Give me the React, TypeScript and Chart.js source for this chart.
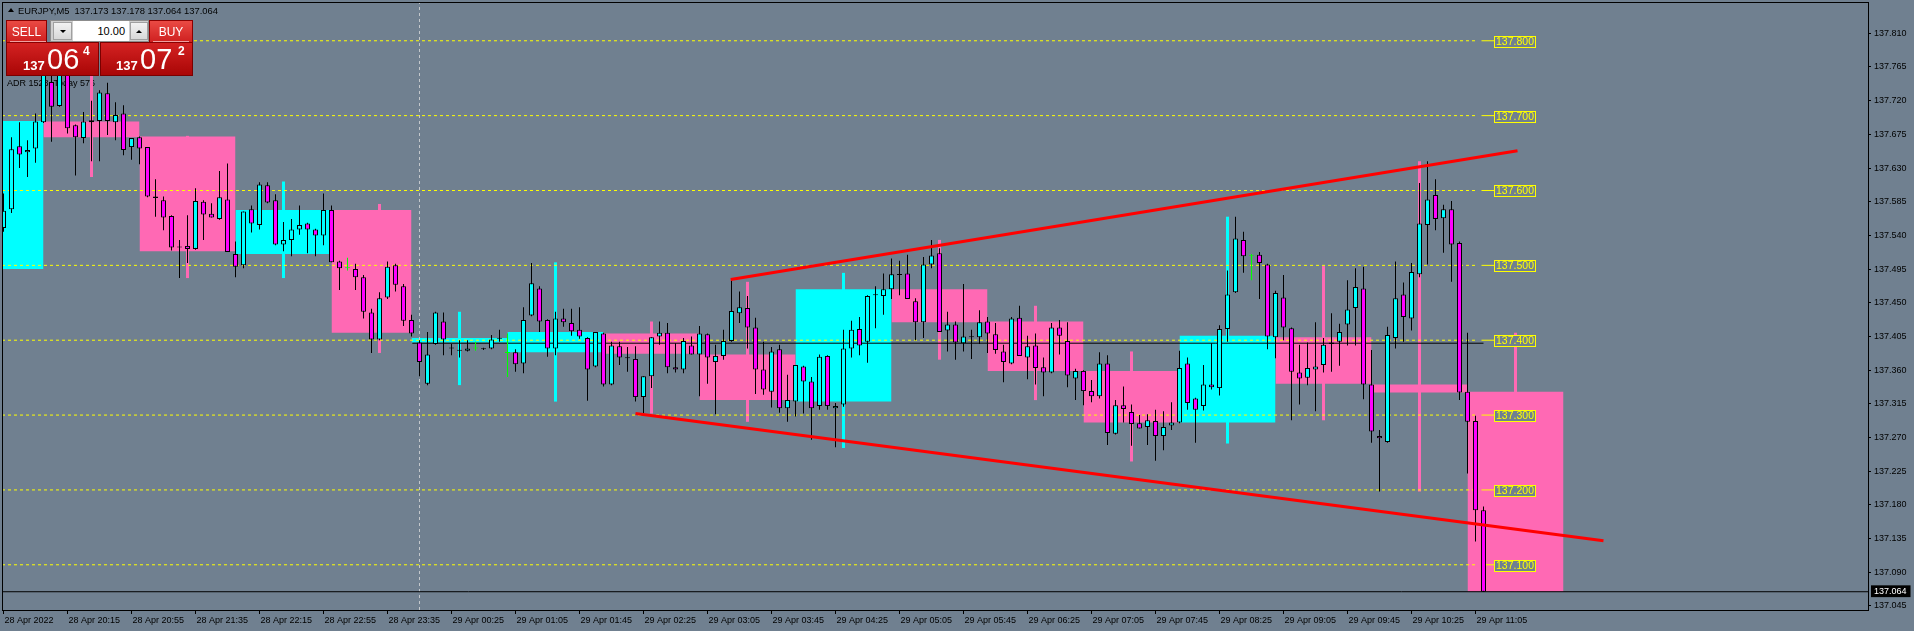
import React, { useEffect, useRef } from "react";
import { Chart, registerables } from "chart.js";

Chart.register(...registerables);

// ---------- data ----------
const TIME_LABELS = [
  "28 Apr 2022", "28 Apr 20:15", "28 Apr 20:55", "28 Apr 21:35", "28 Apr 22:15", "28 Apr 22:55",
  "28 Apr 23:35", "29 Apr 00:25", "29 Apr 01:05", "29 Apr 01:45", "29 Apr 02:25", "29 Apr 03:05",
  "29 Apr 03:45", "29 Apr 04:25", "29 Apr 05:05", "29 Apr 05:45", "29 Apr 06:25", "29 Apr 07:05",
  "29 Apr 07:45", "29 Apr 08:25", "29 Apr 09:05", "29 Apr 09:45", "29 Apr 10:25", "29 Apr 11:05",
];
const TIME_LABEL_STEP = 8;

const PRICE_TICKS = [
  137.045, 137.09, 137.135, 137.18, 137.225, 137.27, 137.315, 137.36, 137.405,
  137.45, 137.495, 137.54, 137.585, 137.63, 137.675, 137.72, 137.765, 137.81,
];
const LAST_PRICE = 137.064;

const OPEN = [
  137.550, 137.575, 137.659, 137.651, 137.656, 137.691, 137.745, 137.713, 137.756, 137.687,
  137.670, 137.691, 137.693, 137.730, 137.691, 137.703, 137.658, 137.671, 137.658, 137.592,
  137.587, 137.566, 137.525, 137.526, 137.522, 137.585, 137.569, 137.562, 137.588, 137.515,
  137.500, 137.575, 137.554, 137.607, 137.587, 137.528, 137.534, 137.548, 137.556, 137.548,
  137.540, 137.574, 137.505, 137.496, 137.495, 137.484, 137.437, 137.401, 137.457, 137.500,
  137.472, 137.427, 137.397, 137.342, 137.395, 137.425, 137.390, 137.387, 137.386, 137.389,
  137.389, 137.389, 137.403, 137.383, 137.384, 137.369, 137.433, 137.469, 137.427, 137.389,
  137.429, 137.423, 137.414, 137.403, 137.365, 137.409, 137.341, 137.392, 137.377, 137.375,
  137.324, 137.352, 137.405, 137.410, 137.364, 137.361, 137.393, 137.381, 137.408, 137.371,
  137.379, 137.399, 137.436, 137.443, 137.417, 137.361, 137.331, 137.388, 137.309, 137.318,
  137.365, 137.345, 137.312, 137.379, 137.309, 137.314, 137.389, 137.415, 137.398, 137.461,
  137.459, 137.468, 137.488, 137.489, 137.452, 137.424, 137.501, 137.516, 137.413, 137.421,
  137.396, 137.405, 137.404, 137.425, 137.408, 137.385, 137.369, 137.430, 137.377, 137.393,
  137.364, 137.357, 137.417, 137.399, 137.349, 137.359, 137.332, 137.325, 137.369, 137.275,
  137.313, 137.304, 137.289, 137.284, 137.292, 137.272, 137.286, 137.290, 137.369, 137.322,
  137.312, 137.341, 137.336, 137.415, 137.464, 137.534, 137.512, 137.514, 137.501, 137.404,
  137.457, 137.416, 137.357, 137.350, 137.361, 137.367, 137.395, 137.398, 137.421, 137.443,
  137.469, 137.341, 137.272, 137.264, 137.403, 137.461, 137.429, 137.488, 137.554, 137.594,
  137.563, 137.575, 137.530, 137.331, 137.292, 137.173,
];
const HIGH = [
  137.596, 137.671, 137.691, 137.667, 137.703, 137.764, 137.753, 137.766, 137.761, 137.688,
  137.705, 137.720, 137.734, 137.744, 137.718, 137.714, 137.670, 137.672, 137.658, 137.615,
  137.592, 137.567, 137.534, 137.567, 137.603, 137.587, 137.583, 137.626, 137.636, 137.532,
  137.572, 137.580, 137.611, 137.611, 137.595, 137.558, 137.562, 137.580, 137.557, 137.549,
  137.596, 137.580, 137.506, 137.510, 137.502, 137.487, 137.442, 137.464, 137.505, 137.502,
  137.475, 137.434, 137.400, 137.411, 137.438, 137.437, 137.395, 137.400, 137.400, 137.398,
  137.390, 137.407, 137.414, 137.409, 137.388, 137.444, 137.503, 137.472, 137.428, 137.438,
  137.442, 137.442, 137.444, 137.404, 137.411, 137.410, 137.398, 137.398, 137.391, 137.392,
  137.352, 137.404, 137.425, 137.423, 137.396, 137.403, 137.405, 137.419, 137.409, 137.394,
  137.414, 137.480, 137.465, 137.459, 137.430, 137.398, 137.391, 137.394, 137.354, 137.367,
  137.366, 137.351, 137.381, 137.380, 137.316, 137.414, 137.426, 137.431, 137.460, 137.472,
  137.489, 137.509, 137.506, 137.514, 137.456, 137.511, 137.534, 137.523, 137.438, 137.425,
  137.475, 137.414, 137.440, 137.431, 137.423, 137.394, 137.431, 137.446, 137.406, 137.409,
  137.377, 137.423, 137.427, 137.424, 137.362, 137.360, 137.347, 137.384, 137.380, 137.320,
  137.338, 137.314, 137.300, 137.301, 137.307, 137.305, 137.317, 137.386, 137.377, 137.323,
  137.367, 137.396, 137.420, 137.493, 137.565, 137.545, 137.515, 137.518, 137.502, 137.466,
  137.487, 137.417, 137.394, 137.397, 137.424, 137.403, 137.436, 137.422, 137.480, 137.496,
  137.498, 137.387, 137.280, 137.418, 137.505, 137.477, 137.503, 137.610, 137.639, 137.615,
  137.581, 137.586, 137.532, 137.410, 137.299, 137.178,
];
const LOW = [
  137.545, 137.570, 137.630, 137.618, 137.637, 137.690, 137.665, 137.712, 137.676, 137.620,
  137.663, 137.639, 137.639, 137.674, 137.667, 137.647, 137.641, 137.635, 137.591, 137.565,
  137.547, 137.520, 137.483, 137.503, 137.521, 137.534, 137.564, 137.561, 137.518, 137.484,
  137.496, 137.544, 137.548, 137.583, 137.527, 137.519, 137.512, 137.541, 137.516, 137.512,
  137.527, 137.504, 137.467, 137.493, 137.467, 137.429, 137.383, 137.400, 137.455, 137.465,
  137.419, 137.405, 137.352, 137.340, 137.394, 137.380, 137.380, 137.377, 137.385, 137.386,
  137.387, 137.388, 137.398, 137.351, 137.358, 137.356, 137.432, 137.411, 137.378, 137.380,
  137.418, 137.406, 137.402, 137.319, 137.364, 137.338, 137.340, 137.367, 137.358, 137.318,
  137.302, 137.336, 137.394, 137.356, 137.357, 137.356, 137.381, 137.325, 137.342, 137.301,
  137.374, 137.398, 137.423, 137.389, 137.328, 137.327, 137.310, 137.303, 137.291, 137.298,
  137.302, 137.267, 137.307, 137.307, 137.257, 137.311, 137.377, 137.380, 137.370, 137.416,
  137.434, 137.455, 137.460, 137.455, 137.400, 137.403, 137.496, 137.411, 137.385, 137.374,
  137.385, 137.375, 137.395, 137.383, 137.382, 137.344, 137.368, 137.379, 137.348, 137.341,
  137.325, 137.356, 137.381, 137.337, 137.320, 137.313, 137.317, 137.322, 137.260, 137.274,
  137.290, 137.259, 137.282, 137.260, 137.239, 137.253, 137.280, 137.289, 137.307, 137.263,
  137.306, 137.334, 137.326, 137.398, 137.463, 137.490, 137.480, 137.455, 137.388, 137.376,
  137.400, 137.293, 137.314, 137.340, 137.305, 137.357, 137.358, 137.366, 137.393, 137.393,
  137.321, 137.263, 137.198, 137.263, 137.389, 137.398, 137.413, 137.484, 137.501, 137.547,
  137.517, 137.478, 137.320, 137.222, 137.131, 137.064,
];
const CLOSE = [
  137.573, 137.655, 137.648, 137.654, 137.692, 137.758, 137.712, 137.758, 137.683, 137.671,
  137.692, 137.694, 137.731, 137.693, 137.701, 137.654, 137.670, 137.656, 137.592, 137.590,
  137.564, 137.524, 137.524, 137.522, 137.586, 137.568, 137.564, 137.591, 137.518, 137.498,
  137.572, 137.556, 137.608, 137.584, 137.528, 137.534, 137.548, 137.554, 137.548, 137.540,
  137.574, 137.504, 137.496, 137.496, 137.484, 137.438, 137.401, 137.456, 137.498, 137.474,
  137.426, 137.409, 137.371, 137.381, 137.437, 137.401, 137.389, 137.386, 137.389, 137.389,
  137.388, 137.401, 137.402, 137.383, 137.368, 137.427, 137.476, 137.425, 137.389, 137.429,
  137.424, 137.412, 137.405, 137.361, 137.411, 137.341, 137.393, 137.377, 137.376, 137.324,
  137.352, 137.404, 137.410, 137.364, 137.361, 137.399, 137.381, 137.409, 137.377, 137.379,
  137.399, 137.439, 137.444, 137.417, 137.361, 137.334, 137.385, 137.309, 137.320, 137.367,
  137.345, 137.309, 137.378, 137.312, 137.312, 137.389, 137.414, 137.393, 137.459, 137.460,
  137.468, 137.488, 137.487, 137.455, 137.424, 137.501, 137.513, 137.411, 137.421, 137.397,
  137.405, 137.404, 137.424, 137.409, 137.387, 137.371, 137.429, 137.379, 137.392, 137.363,
  137.357, 137.417, 137.406, 137.353, 137.359, 137.332, 137.325, 137.369, 137.276, 137.313,
  137.308, 137.288, 137.282, 137.293, 137.272, 137.284, 137.290, 137.363, 137.316, 137.307,
  137.341, 137.337, 137.415, 137.461, 137.536, 137.512, 137.512, 137.503, 137.405, 137.463,
  137.417, 137.358, 137.349, 137.363, 137.365, 137.394, 137.397, 137.411, 137.441, 137.471,
  137.341, 137.278, 137.269, 137.407, 137.456, 137.431, 137.491, 137.556, 137.588, 137.562,
  137.575, 137.528, 137.330, 137.291, 137.173, 137.064,
];

// hourly (H1) candle overlay boxes
const H1_START = [-7, 5, 17, 29, 41, 51, 63, 75, 87, 99, 111, 123, 135, 147, 159, 171, 183];
const H1_END = [5, 17, 29, 41, 51, 63, 75, 87, 99, 111, 123, 135, 147, 159, 171, 183, 195];
const H1_WICK_AT = [-1, 11, 23, 35, 47, 57, 69, 81, 93, 105, 117, 129, 141, 153, 165, 177, 189];
const H1_OPEN = [137.495, 137.692, 137.672, 137.515, 137.574, 137.397, 137.384, 137.409, 137.381, 137.318, 137.468, 137.425, 137.359, 137.290, 137.404, 137.341, 137.331];
const H1_CLOSE = [137.693, 137.671, 137.519, 137.574, 137.410, 137.403, 137.411, 137.382, 137.320, 137.468, 137.424, 137.359, 137.290, 137.406, 137.342, 137.330, 137.064];
const H1_HIGH = [137.720, 137.766, 137.673, 137.612, 137.582, 137.438, 137.504, 137.425, 137.478, 137.490, 137.534, 137.446, 137.385, 137.565, 137.499, 137.639, 137.410];
const H1_LOW = [137.480, 137.618, 137.483, 137.483, 137.383, 137.340, 137.318, 137.302, 137.291, 137.256, 137.374, 137.320, 137.238, 137.262, 137.293, 137.198, 137.064];

const LEVELS = [137.8, 137.7, 137.6, 137.5, 137.4, 137.3, 137.2, 137.1];
const LEVEL_DASH_END = 184.3;
const LEVEL_LABEL_AT = 186.35;

const DAY_OPEN = 137.396;
const DAY_OPEN_FROM = 51.1;
const DAY_OPEN_TO = 185;
const DAY_SEPARATOR_AT = 52;

const UPPER_TREND_X = [90.9, 189.25];
const UPPER_TREND_Y = [137.481, 137.653];
const LOWER_TREND_X = [79, 200];
const LOWER_TREND_Y = [137.302, 137.132];

// ---------- view ----------
const X_MIN = -0.1875;
const X_MAX = 233.0625;
const Y_MIN = 137.0396;
const Y_MAX = 137.8518;

const BG = "#708090";
const CYAN = "#00ffff";
const MAGENTA = "#ff00ff";
const PINK = "#ff69b4";
const LIME = "#00ff00";
const YELLOW = "#ffff00";
const FONT = "'Liberation Sans', Arial, sans-serif";

const isLast = (v: number) => Math.abs(v - LAST_PRICE) < 1e-7;

function buildConfig(): any {
  const idx = OPEN.map((_, i) => i);
  const doji = idx.map((i) => OPEN[i] === CLOSE[i]);

  const boxSets = H1_START.map((s, k) => ({
    type: "line",
    data: [
      { x: s, y: H1_CLOSE[k] },
      { x: H1_END[k], y: H1_CLOSE[k] },
    ],
    fill: { value: H1_OPEN[k] },
    backgroundColor: H1_CLOSE[k] >= H1_OPEN[k] ? CYAN : PINK,
    borderWidth: 0,
    pointRadius: 0,
    order: 100,
  }));

  const levelDash: any[] = [];
  const levelSolid: any[] = [];
  LEVELS.forEach((lv) => {
    levelDash.push({ x: X_MIN, y: lv }, { x: LEVEL_DASH_END, y: lv }, { x: LEVEL_DASH_END + 0.1, y: null });
    levelSolid.push({ x: LEVEL_DASH_END + 0.45, y: lv }, { x: LEVEL_LABEL_AT, y: lv }, { x: LEVEL_LABEL_AT + 0.1, y: null });
  });

  const lineBase = { type: "line", pointRadius: 0, fill: false, tension: 0, spanGaps: false };

  const datasets: any[] = [
    ...boxSets,
    {
      type: "bar",
      data: H1_WICK_AT.map((w, k) => ({ x: w, y: [H1_LOW[k], H1_HIGH[k]] })),
      backgroundColor: H1_WICK_AT.map((_, k) => (H1_CLOSE[k] >= H1_OPEN[k] ? CYAN : PINK)),
      borderWidth: 0,
      barThickness: 3,
      maxBarThickness: 3,
      inflateAmount: 0,
      grouped: false,
      order: 95,
    },
    {
      ...lineBase,
      data: [
        { x: DAY_SEPARATOR_AT, y: Y_MIN },
        { x: DAY_SEPARATOR_AT, y: Y_MAX },
      ],
      borderColor: "#c4c8cc",
      borderWidth: 1,
      borderDash: [3, 3],
      order: 90,
    },
    { ...lineBase, data: levelDash, borderColor: YELLOW, borderWidth: 1, borderDash: [3, 3], order: 80 },
    { ...lineBase, data: levelSolid, borderColor: YELLOW, borderWidth: 1, order: 80 },
    {
      ...lineBase,
      data: [
        { x: DAY_OPEN_FROM, y: DAY_OPEN },
        { x: DAY_OPEN_TO, y: DAY_OPEN },
      ],
      borderColor: "#000",
      borderWidth: 1,
      order: 75,
    },
    {
      ...lineBase,
      data: [
        { x: X_MIN, y: LAST_PRICE },
        { x: X_MAX, y: LAST_PRICE },
      ],
      borderColor: "#000",
      borderWidth: 1,
      order: 74,
    },
    {
      type: "bar",
      data: idx.map((i) => ({ x: i, y: [LOW[i], HIGH[i]] })),
      backgroundColor: idx.map((i) => (doji[i] ? LIME : "#000")),
      borderWidth: 0,
      barThickness: 1,
      maxBarThickness: 1,
      inflateAmount: 0,
      grouped: false,
      order: 20,
    },
    {
      type: "bar",
      data: idx.map((i) => ({ x: i, y: [OPEN[i], CLOSE[i]] })),
      backgroundColor: idx.map((i) => (CLOSE[i] > OPEN[i] ? CYAN : doji[i] ? LIME : MAGENTA)),
      borderColor: idx.map((i) => (doji[i] ? LIME : "#000")),
      borderWidth: 1,
      borderSkipped: false,
      minBarLength: 1,
      barThickness: 5,
      maxBarThickness: 5,
      inflateAmount: 0,
      grouped: false,
      order: 10,
    },
    {
      ...lineBase,
      data: UPPER_TREND_X.map((x, k) => ({ x, y: UPPER_TREND_Y[k] })),
      borderColor: "#ff0000",
      borderWidth: 3,
      order: 5,
    },
    {
      ...lineBase,
      data: LOWER_TREND_X.map((x, k) => ({ x, y: LOWER_TREND_Y[k] })),
      borderColor: "#ff0000",
      borderWidth: 3,
      order: 5,
    },
  ];

  const framePlugin = {
    id: "frame",
    afterDatasetsDraw(chart: any) {
      const { ctx, chartArea: a } = chart;
      ctx.save();
      ctx.strokeStyle = "#000";
      ctx.lineWidth = 1;
      ctx.strokeRect(a.left + 0.5, a.top + 0.5, a.right - a.left, a.bottom - a.top);
      ctx.restore();
    },
  };

  const adrPlugin = {
    id: "adr",
    beforeDatasetsDraw(chart: any) {
      const { ctx } = chart;
      ctx.save();
      ctx.font = `9px ${FONT}`;
      ctx.fillStyle = "#000";
      ctx.textBaseline = "middle";
      ctx.fillText("ADR 1528  Today 576", 7, 84);
      ctx.restore();
    },
  };

  const levelLabelPlugin = {
    id: "levelLabels",
    afterDatasetsDraw(chart: any) {
      const { ctx, scales } = chart;
      const x0 = Math.round(scales.x.getPixelForValue(LEVEL_LABEL_AT)) + 0.5;
      ctx.save();
      ctx.font = `10.5px ${FONT}`;
      ctx.textAlign = "center";
      ctx.textBaseline = "middle";
      LEVELS.forEach((lv) => {
        const py = Math.round(scales.y.getPixelForValue(lv)) + 0.5;
        ctx.fillStyle = BG;
        ctx.fillRect(x0, py - 5, 41, 11);
        ctx.strokeStyle = YELLOW;
        ctx.lineWidth = 1;
        ctx.strokeRect(x0, py - 5, 41, 11);
        ctx.fillStyle = YELLOW;
        ctx.fillText(lv.toFixed(3), x0 + 20.5, py + 1);
      });
      ctx.restore();
    },
  };

  return {
    type: "bar",
    data: { datasets },
    plugins: [adrPlugin, framePlugin, levelLabelPlugin],
    options: {
      responsive: false,
      animation: false,
      devicePixelRatio: 1,
      events: [],
      layout: { padding: { left: 2, top: 2, right: 0, bottom: 0 } },
      plugins: { legend: { display: false }, tooltip: { enabled: false }, title: { display: false } },
      scales: {
        x: {
          type: "linear",
          position: "bottom",
          min: X_MIN,
          max: X_MAX,
          offset: false,
          afterBuildTicks: (s: any) => {
            s.ticks = TIME_LABELS.map((_, i) => ({ value: i * TIME_LABEL_STEP }));
          },
          afterFit: (s: any) => {
            s.height = 21;
            s.paddingLeft = 0;
            s.paddingRight = 0;
          },
          ticks: {
            autoSkip: false,
            maxRotation: 0,
            minRotation: 0,
            align: "start",
            padding: 1,
            labelOffset: 1,
            color: "#000",
            font: { family: FONT, size: 9 },
            callback: (v: number) => TIME_LABELS[Math.round(v / TIME_LABEL_STEP)] ?? "",
          },
          grid: { drawOnChartArea: false, drawTicks: true, tickLength: 4, tickColor: "#000", offset: false },
          border: { display: false },
        },
        y: {
          type: "linear",
          position: "right",
          min: Y_MIN,
          max: Y_MAX,
          afterBuildTicks: (s: any) => {
            s.ticks = [...PRICE_TICKS, LAST_PRICE].sort((a, b) => a - b).map((v) => ({ value: v }));
          },
          afterFit: (s: any) => {
            s.width = 46;
            s.paddingTop = 0;
            s.paddingBottom = 0;
          },
          ticks: {
            autoSkip: false,
            padding: 3,
            font: { family: FONT, size: 9 },
            color: (c: any) => (c.tick && isLast(c.tick.value) ? "#fff" : "#000"),
            showLabelBackdrop: (c: any) => !!(c.tick && isLast(c.tick.value)),
            backdropColor: "#000",
            backdropPadding: { top: 1, bottom: 0, left: 3, right: 4 },
            callback: (v: number) => Number(v).toFixed(3),
          },
          grid: {
            drawOnChartArea: false,
            drawTicks: true,
            tickLength: 3,
            tickColor: (c: any) => (c.tick && isLast(c.tick.value) ? "rgba(0,0,0,0)" : "#000"),
          },
          border: { display: false },
        },
      },
    },
  };
}

const abs = (l: number, t: number, w: number, h: number): React.CSSProperties => ({
  position: "absolute",
  left: l,
  top: t,
  width: w,
  height: h,
  boxSizing: "border-box",
});

function PricePart(props: { left: number; big: string; small: string; sup: string; xs: number[] }) {
  const { left, big, small, sup, xs } = props;
  const txt: React.CSSProperties = { position: "absolute", color: "#fff", fontFamily: FONT, lineHeight: 1, whiteSpace: "nowrap" };
  return (
    <div style={{ ...abs(left, 42, 93, 34), background: "linear-gradient(#d42222, #a90606)", border: "1px solid #7a0000" }}>
      <span style={{ ...txt, left: xs[0], top: 16, fontSize: 13, fontWeight: "bold" }}>{small}</span>
      <span style={{ ...txt, left: xs[1], top: 1.5, fontSize: 29 }}>{big}</span>
      <span style={{ ...txt, left: xs[2], top: 2, fontSize: 12, fontWeight: "bold" }}>{sup}</span>
    </div>
  );
}

export default function App() {
  const ref = useRef<HTMLCanvasElement | null>(null);

  useEffect(() => {
    document.body.style.margin = "0";
    const chart = new Chart(ref.current as HTMLCanvasElement, buildConfig());
    return () => chart.destroy();
  }, []);

  const btn: React.CSSProperties = {
    background: "linear-gradient(#ea4a44, #cf2020)",
    border: "1px solid #8a0000",
    color: "#fff",
    fontFamily: FONT,
    fontSize: 12,
    display: "flex",
    alignItems: "center",
    justifyContent: "center",
  };

  return (
    <div style={{ position: "relative", width: 1914, height: 631, background: BG, overflow: "hidden" }}>
      <canvas ref={ref} width={1914} height={631} style={{ display: "block" }} />

      {/* title */}
      <div
        style={{
          position: "absolute",
          left: 8,
          top: 8,
          width: 0,
          height: 0,
          borderLeft: "3px solid transparent",
          borderRight: "3px solid transparent",
          borderBottom: "4px solid #000",
        }}
      />
      <div style={{ position: "absolute", left: 18, top: 6, fontFamily: FONT, fontSize: 9.4, lineHeight: 1, color: "#000", whiteSpace: "pre" }}>
        {"EURJPY,M5  137.173 137.178 137.064 137.064"}
      </div>

      {/* one-click trading panel */}
      <PricePart left={6} small="137" big="06" sup="4" xs={[16, 40, 76]} />
      <PricePart left={100} small="137" big="07" sup="2" xs={[15, 39, 77]} />
      <div style={{ ...abs(6, 20, 41, 23), ...btn }}>SELL</div>
      <div style={{ ...abs(149, 20, 44, 23), ...btn }}>BUY</div>
      <div style={{ ...abs(10, 41, 36, 1), background: "#f0a0a0" }} />
      <div style={{ ...abs(153, 41, 36, 1), background: "#f0a0a0" }} />

      <div style={{ ...abs(50, 20, 99, 22), background: "#cfcfcf", border: "1px solid #8c8c8c" }}>
        <div style={{ ...abs(2, 1, 19, 18), background: "linear-gradient(#f2f2f2, #d8d8d8)", border: "1px solid #a0a0a0", display: "flex", alignItems: "center", justifyContent: "center" }}>
          <div style={{ width: 0, height: 0, borderLeft: "3px solid transparent", borderRight: "3px solid transparent", borderTop: "3px solid #000" }} />
        </div>
        <div style={{ ...abs(22, 0, 56, 20), background: "#fff", fontFamily: FONT, fontSize: 11, lineHeight: "20px", textAlign: "right", paddingRight: 4, color: "#000" }}>
          10.00
        </div>
        <div style={{ ...abs(79, 1, 18, 18), background: "linear-gradient(#f2f2f2, #d8d8d8)", border: "1px solid #a0a0a0", display: "flex", alignItems: "center", justifyContent: "center" }}>
          <div style={{ width: 0, height: 0, borderLeft: "3px solid transparent", borderRight: "3px solid transparent", borderBottom: "3px solid #000" }} />
        </div>
      </div>
    </div>
  );
}
